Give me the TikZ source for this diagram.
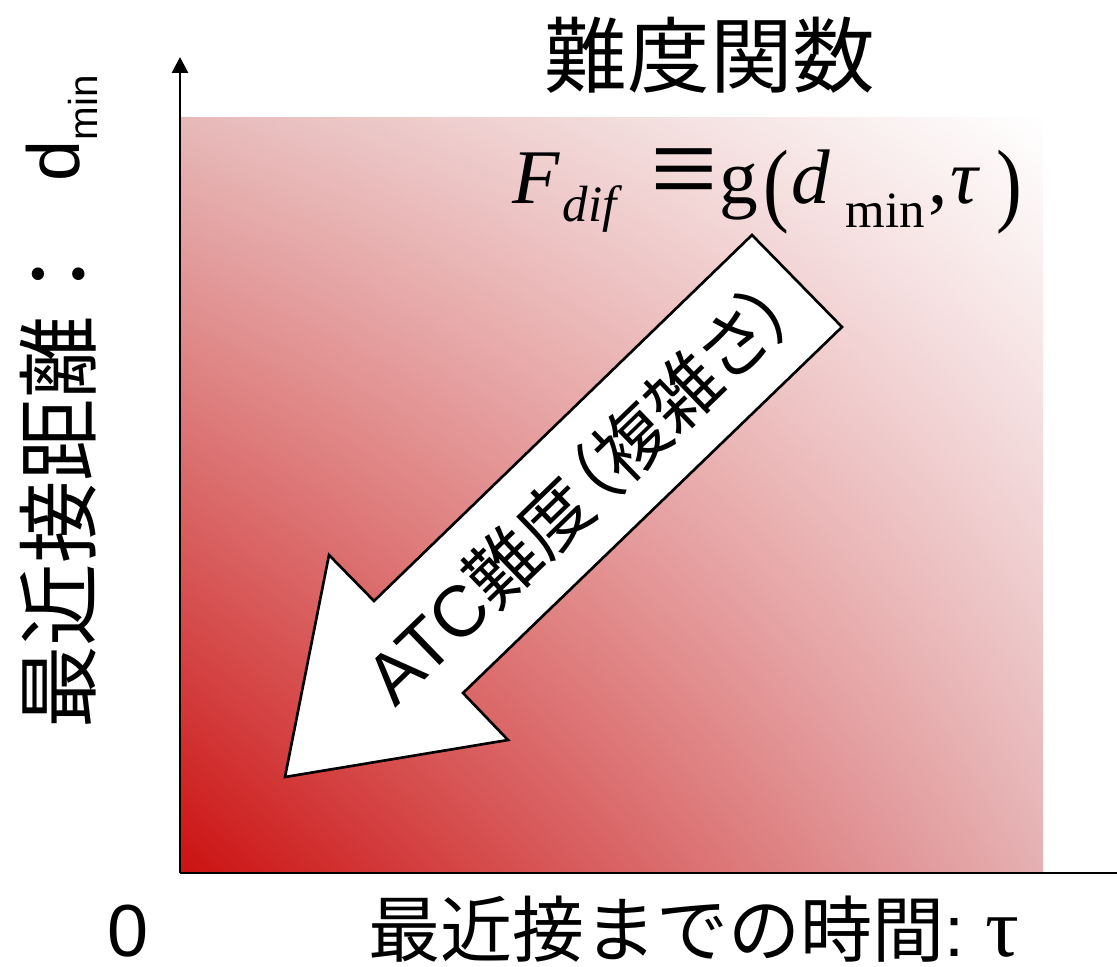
\documentclass[tikz,border=0pt]{standalone}
\usepackage{fontspec}
\setmainfont{Liberation Sans}
\newfontfamily\jp{Noto Sans CJK JP}
\newfontfamily\jpp[RawFeature=+palt]{Noto Sans CJK JP}
\newfontfamily\tms{Liberation Serif}
\usetikzlibrary{arrows.meta,shadings}
\newlength\pxu
\setlength\pxu{0.5669pt}
\newcommand\piece[2]{\makebox[#1\pxu][l]{#2}}
\definecolor{cLL}{RGB}{204,17,17}
\definecolor{cUL}{RGB}{231,185,185}
\definecolor{cLR}{RGB}{229,176,178}
\definecolor{cUR}{RGB}{255,255,255}
\begin{document}
\begin{tikzpicture}[x=0.02cm,y=-0.02cm,
  axisline/.style={line width=1.6pt,-{Triangle[width=9pt,length=9pt]}},
  bigarrow/.style={draw=black,fill=white,line width=1.5pt,line join=miter},
  lbl/.style={inner sep=0pt,outer sep=0pt}]
\useasboundingbox (0,0) rectangle (1117,967);
% gradient field
\shade[upper left=cUL,upper right=cUR,lower left=cLL,lower right=cLR] (180,117) rectangle (1043,873);
% axes
\coordinate (o) at (180,873);
\coordinate (ytip) at (180,57);
\coordinate (xtip) at (1133,873);
\draw[axisline] (o) -- (ytip);
\draw[axisline] (o) -- (xtip);
% big arrow
\coordinate (p1) at (285,777);
\coordinate (p2) at (329,555);
\coordinate (p3) at (374,601);
\coordinate (p4) at (752,235);
\coordinate (p5) at (842,327);
\coordinate (p6) at (463,693);
\coordinate (p7) at (508,740);
\draw[bigarrow] (p1) -- (p2) -- (p3) -- (p4) -- (p5) -- (p6) -- (p7) -- cycle;
\node[lbl,rotate=44.03] (atc) at (579,493) {\fontsize{41}{41}\selectfont ATC{\jpp 難度（複雑さ）}};
% title
\node[lbl] (title) at (710,55) {\jp\fontsize{47}{47}\selectfont 難度関数};
% formula
\node[lbl,anchor=base west] (formula) at (512,203) {\tms\fontsize{44}{44}\selectfont
  \piece{51}{\itshape F}%
  \piece{88}{\raisebox{-19\pxu}{\itshape\fontsize{29}{29}\selectfont dif}}%
  \piece{69}{\raisebox{-7\pxu}{\scalebox{1.55}[1.57]{≡}}}%
  \piece{45}{g}%
  \piece{28}{\raisebox{-12\pxu}{\scalebox{1}[1.2]{(}}}%
  \piece{54}{\itshape d}%
  \piece{83}{\raisebox{-25\pxu}{\fontsize{29}{29}\selectfont min}}%
  \piece{22}{,}%
  \piece{46}{\itshape τ}%
  \raisebox{-12\pxu}{\scalebox{1}[1.2]{)}}};
% y label
\node[lbl,rotate=90] (ylabel) at (58,481) {\jp\fontsize{47}{47}\selectfont 最近接距離：};
\node[lbl,rotate=90] (dmin) at (62,128) {\fontsize{42}{42}\selectfont d\raisebox{-10pt}{\fontsize{23}{23}\selectfont min}};
% x labels
\node[lbl] (zero) at (128,931) {\fontsize{42}{42}\selectfont 0};
\node[lbl,anchor=west] (xlabel) at (368,929) {{\jp\fontsize{41}{41}\selectfont 最近接までの時間}\fontsize{41}{41}\selectfont:\hspace{12pt}{\tms\fontsize{48}{48}\selectfont τ}};
\end{tikzpicture}
\end{document}
